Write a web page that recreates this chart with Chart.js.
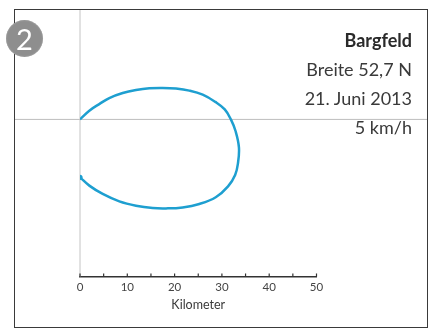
<!DOCTYPE html>
<html>
<head>
<meta charset="utf-8">
<script src="https://cdn.jsdelivr.net/npm/chart.js@4"></script>
<style>
  html, body { margin: 0; padding: 0; background: #ffffff; }
  #wrap { position: relative; width: 431px; height: 331px; overflow: hidden; }
  #c { position: absolute; left: 0; top: 0; }
  #frame { position: absolute; left: 14px; top: 9px; width: 412px; height: 317px;
           border: 1.5px solid #3a3a3a; pointer-events: none; }
  #badge { position: absolute; left: 6px; top: 20px; width: 37px; height: 37px; border-radius: 50%;
           background: #8e8e8e; box-shadow: inset 0 0 2px #b0b0b0; color: #fff;
           font: 29px Lato, "Open Sans", sans-serif; text-align: center; line-height: 37px; }
  .info { position: absolute; right: 19px; font-family: Lato, "Open Sans", sans-serif; font-size: 18px;
          color: #3a3a3a; white-space: nowrap; line-height: 1; }
  .info.bold { font-weight: bold; color: #2a2a2a; }
</style>
</head>
<body>
<div id="wrap">
  <canvas id="c" width="431" height="331"></canvas>
  <div id="frame"></div>
  <div id="badge">2</div>
  <div class="info bold" style="top:31px">Bargfeld</div>
  <div class="info" style="top:60px">Breite 52,7 N</div>
  <div class="info" style="top:89px">21. Juni 2013</div>
  <div class="info" style="top:118px">5 km/h</div>
</div>
<script>
// Track of the walk, kilometres east (x) and north (y) of the start point
const eastKm  = [0, 1.97, 4.08, 6.19, 9.03, 11.84, 14.65, 17.48, 20.30, 23.11, 25.94, 28.6, 30.6, 31.9, 32.9, 33.6, 33.4, 32.8, 31.3, 28.7, 25.22, 21.71, 18.18, 15.37, 11.84, 8.31, 4.80, 1.97, 0];
const northKm = [0, 1.84, 3.23, 4.50, 5.56, 6.19, 6.55, 6.62, 6.49, 6.07, 5.22, 3.7, 2.1, 0, -2.5, -5.9, -9.2, -11.7, -14.1, -16.4, -17.82, -18.54, -18.75, -18.67, -18.18, -17.27, -15.71, -13.95, -12.20];

// Axis ticks
const xTicks = [0, 5, 10, 15, 20, 25, 30, 35, 40, 45, 50];
const xTickLabels = ['0', '', '10', '', '20', '', '30', '', '40', '', '50'];
const xTitle = 'Kilometer';

const track = eastKm.map((x, i) => ({ x: x, y: northKm[i] }));
const endPoint = [track[track.length - 1]];

// Reference lines through the origin plus upward tick marks on the x axis
const guides = {
  id: 'guides',
  beforeDatasetsDraw(chart) {
    const { ctx, chartArea, scales } = chart;
    const x0 = scales.x.getPixelForValue(0);
    const y0 = scales.y.getPixelForValue(0);
    ctx.save();
    ctx.strokeStyle = '#bdbdbd';
    ctx.lineWidth = 1;
    ctx.beginPath();
    ctx.moveTo(15, y0); ctx.lineTo(427, y0);
    ctx.stroke();
    ctx.strokeStyle = '#c4c4c4';
    ctx.beginPath();
    ctx.moveTo(x0, 9); ctx.lineTo(x0, chartArea.bottom);
    ctx.stroke();
    ctx.restore();
  },
  afterDraw(chart) {
    const { ctx, chartArea, scales } = chart;
    ctx.save();
    ctx.strokeStyle = '#333';
    ctx.lineWidth = 1.2;
    xTicks.forEach(v => {
      const px = scales.x.getPixelForValue(v);
      ctx.beginPath();
      ctx.moveTo(px, chartArea.bottom);
      ctx.lineTo(px, chartArea.bottom - 3);
      ctx.stroke();
    });
    ctx.restore();
  }
};

new Chart(document.getElementById('c'), {
  type: 'scatter',
  data: {
    datasets: [
      {
        data: track,
        showLine: true,
        borderColor: '#1e9fd0',
        borderWidth: 2.5,
        tension: 0.4,
        pointRadius: 0,
        fill: false
      },
      {
        data: endPoint,
        pointRadius: 2.6,
        pointBackgroundColor: '#1e9fd0',
        pointBorderWidth: 0,
        showLine: false
      }
    ]
  },
  options: {
    responsive: false,
    animation: false,
    events: [],
    layout: { padding: { left: 80, right: 114.5, top: 9, bottom: 19 } },
    plugins: { legend: { display: false }, tooltip: { enabled: false } },
    scales: {
      x: {
        type: 'linear',
        min: 0,
        max: 50,
        afterBuildTicks(scale) { scale.ticks = xTicks.map(v => ({ value: v })); },
        grid: { display: false, drawTicks: false },
        border: { display: true, color: '#333', width: 1.5 },
        ticks: {
          padding: 6,
          color: '#444',
          font: { family: 'Lato, "Open Sans", sans-serif', size: 11.5, lineHeight: 0.85 },
          maxRotation: 0,
          autoSkip: false,
          callback: (v, i) => xTickLabels[i]
        },
        title: {
          display: true,
          text: xTitle,
          color: '#3a3a3a',
          padding: { top: 0, bottom: 0 },
          font: { family: 'Lato, "Open Sans", sans-serif', size: 12.5, lineHeight: 1.1 }
        }
      },
      y: {
        type: 'linear',
        display: false,
        min: -33.09,
        max: 23.26
      }
    }
  },
  plugins: [guides]
});
</script>
</body>
</html>
